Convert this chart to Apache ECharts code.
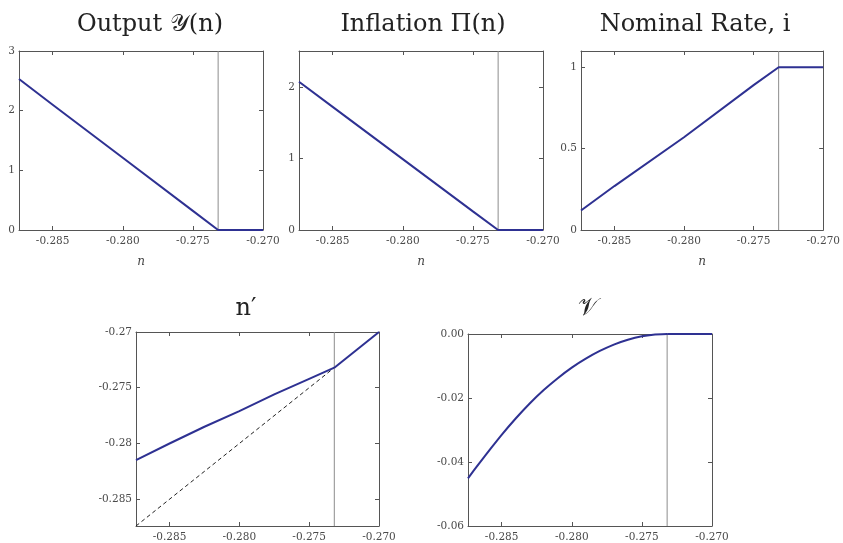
<!DOCTYPE html>
<html>
<head>
<meta charset="utf-8">
<script src="https://cdn.jsdelivr.net/npm/echarts@6/dist/echarts.min.js"></script>
<style>html,body{margin:0;padding:0;background:#fff}#c{width:843px;height:543px}</style>
</head>
<body>
<div id="c"></div>
<script>
// ---- data ----
const titles = ['Output \u{1D4B4}(n)', 'Inflation \u03A0(n)', 'Nominal Rate, i', 'n\u2032', '\u{1D4B1}'];
const xTicks = [-0.285, -0.280, -0.275, -0.270];
const kink = -0.2732;
const nMin = -0.2874, nMax = -0.270;
const nPts = [-0.2874, -0.2850, -0.2800, -0.2750, -0.2732, -0.2700];
const outputY = [2.53, 2.10, 1.21, 0.32, 0, 0];
const inflation = [2.07, 1.72, 0.99, 0.26, 0, 0];
const nominal = [0.12, 0.27, 0.57, 0.89, 1, 1];
const nPrimeN = [-0.2874, -0.2850, -0.2825, -0.2800, -0.2775, -0.2750, -0.2732, -0.2700];
const nPrime = [-0.2815, -0.2800, -0.2785, -0.2771, -0.2756, -0.2742, -0.2732, -0.2700];
const diagonal = [-0.2874, -0.2700];
const vN = [-0.2874, -0.2866, -0.2858, -0.2850, -0.2840, -0.2830, -0.2820, -0.2810, -0.2800, -0.2790, -0.2780, -0.2770, -0.2760, -0.2750, -0.2742, -0.2732, -0.2700];
const vVal = [-0.0451, -0.0404, -0.0359, -0.0315, -0.0264, -0.0217, -0.0175, -0.0138, -0.0105, -0.0077, -0.0053, -0.0033, -0.0018, -0.0007, -0.0002, 0, 0];
const yTicksOut = [0, 1, 2, 3];
const yTicksInf = [0, 1, 2];
const yTicksNom = [0, 0.5, 1];
const yTicksNp = [-0.285, -0.280, -0.275, -0.270];
const yTicksV = [-0.06, -0.04, -0.02, 0];

// ---- layout/styles ----
const FONT = 'DejaVu Serif';
const BLUE = '#2e3192';
const AX = '#555';
const grids = [
  {left: 19, top: 51, width: 244, height: 179},
  {left: 299, top: 51, width: 244, height: 179},
  {left: 581, top: 51, width: 244, height: 179},
  {left: 136, top: 332, width: 243, height: 194},
  {left: 468, top: 334, width: 244, height: 192}
];
const titlePos = [[145, 8], [418, 8], [690, 8], [241, 292], [583, 292]];
const yRanges = [
  {min: 0, max: 3, ticks: yTicksOut, fmt: v => String(v)},
  {min: 0, max: 2.5, ticks: yTicksInf, fmt: v => String(v)},
  {min: 0, max: 1.1, ticks: yTicksNom, fmt: v => String(v)},
  {min: -0.2874, max: -0.27, ticks: yTicksNp, fmt: v => String(+v.toFixed(3))},
  {min: -0.06, max: 0, ticks: yTicksV, fmt: v => v.toFixed(2)}
];
const hasXName = [true, true, true, false, false];

const xAxes = [], yAxes = [], series = [];
grids.forEach((g, i) => {
  const tickCommon = {inside: true, length: 4, lineStyle: {color: AX}};
  xAxes.push({
    type: 'value', gridIndex: i, min: nMin, max: nMax, position: 'bottom',
    axisLine: {onZero: false, lineStyle: {color: AX}},
    axisTick: Object.assign({customValues: xTicks}, tickCommon),
    axisLabel: {customValues: xTicks, formatter: v => v.toFixed(3), color: '#4a4a4a', fontFamily: FONT, fontSize: 10.5, margin: 6},
    splitLine: {show: false},
    name: hasXName[i] ? 'n' : '', nameLocation: 'middle', nameGap: 26,
    nameTextStyle: {fontFamily: FONT, fontStyle: 'italic', fontSize: 12, color: '#444'}
  });
  xAxes.push({
    type: 'value', gridIndex: i, min: nMin, max: nMax, position: 'top',
    axisLine: {onZero: false, lineStyle: {color: AX}},
    axisTick: Object.assign({customValues: xTicks}, tickCommon),
    axisLabel: {show: false}, splitLine: {show: false}
  });
  const yr = yRanges[i];
  yAxes.push({
    type: 'value', gridIndex: i, min: yr.min, max: yr.max, position: 'left',
    axisLine: {show: true, onZero: false, lineStyle: {color: AX}},
    axisTick: Object.assign({show: true, customValues: yr.ticks}, tickCommon),
    axisLabel: {customValues: yr.ticks, formatter: yr.fmt, color: '#4a4a4a', fontFamily: FONT, fontSize: 10.5, margin: 4},
    splitLine: {show: false}
  });
  yAxes.push({
    type: 'value', gridIndex: i, min: yr.min, max: yr.max, position: 'right',
    axisLine: {show: true, onZero: false, lineStyle: {color: AX}},
    axisTick: Object.assign({show: true, customValues: yr.ticks}, tickCommon),
    axisLabel: {show: false}, splitLine: {show: false}
  });
  // vertical reference line at the kink
  series.push({
    type: 'line', xAxisIndex: 2 * i, yAxisIndex: 2 * i, showSymbol: false, silent: true,
    data: [[kink, yr.min], [kink, yr.max]],
    lineStyle: {color: '#8c8c8c', width: 1}, z: 1
  });
});

function lineSeries(i, xs, ys, smooth) {
  return {
    type: 'line', xAxisIndex: 2 * i, yAxisIndex: 2 * i, showSymbol: false,
    data: xs.map((x, k) => [x, ys[k]]),
    smooth: smooth ? 0.2 : false,
    lineStyle: {color: BLUE, width: 2}, itemStyle: {color: BLUE}, z: 3
  };
}
series.push(lineSeries(0, nPts, outputY, false));
series.push(lineSeries(1, nPts, inflation, false));
series.push(lineSeries(2, nPts, nominal, false));
series.push({
  type: 'line', xAxisIndex: 6, yAxisIndex: 6, showSymbol: false, silent: true,
  data: diagonal.map(v => [v, v]),
  lineStyle: {color: '#222', width: 1, type: [4, 3]}, z: 2
});
series.push(lineSeries(3, nPrimeN.slice(0, 7), nPrime.slice(0, 7), false));
series.push(lineSeries(3, nPrimeN.slice(6), nPrime.slice(6), false));
series.push(lineSeries(4, vN.slice(0, 16), vVal.slice(0, 16), true));
series.push(lineSeries(4, vN.slice(15), vVal.slice(15), false));

const option = {
  backgroundColor: '#fff',
  animation: false,
  title: titles.map((t, i) => ({
    text: t, left: titlePos[i][0], top: titlePos[i][1], textAlign: 'center',
    textStyle: {fontFamily: FONT, fontWeight: 'normal', fontSize: 24, color: '#222'}
  })),
  grid: grids,
  xAxis: xAxes,
  yAxis: yAxes,
  series: series
};
const chart = echarts.init(document.getElementById('c'), null, {renderer: 'canvas'});
chart.setOption(option);
</script>
</body>
</html>
